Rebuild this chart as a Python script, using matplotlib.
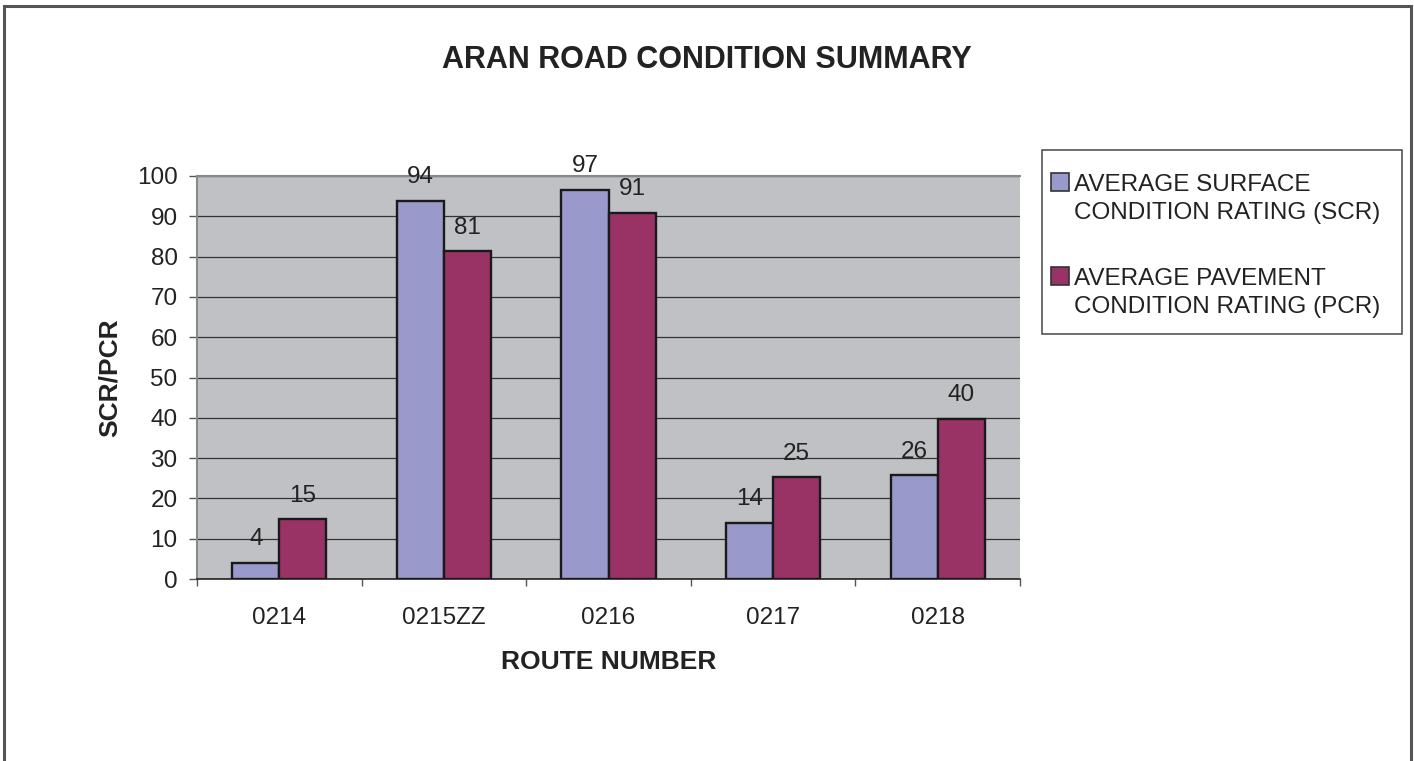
import numpy as np
import matplotlib
matplotlib.use('Agg')
import matplotlib.pyplot as plt
from matplotlib.patches import Rectangle

plt.rcParams['font.family'] = ['Liberation Sans', 'DejaVu Sans']

routes = ['0214', '0215ZZ', '0216', '0217', '0218']
scr = [4, 93.8, 96.6, 14, 25.8]
pcr = [14.8, 81.3, 90.9, 25.3, 39.8]
series_names = ['AVERAGE SURFACE\nCONDITION RATING (SCR)',
                'AVERAGE PAVEMENT\nCONDITION RATING (PCR)']
colors = ['#9999cc', '#993366']

W, H = 1414, 761


def fx(px):
    return px / W


def fy(py):
    # pixel row from top -> figure fraction
    return 1 - py / H


fig = plt.figure(figsize=(W / 100, H / 100), dpi=100)
ax = fig.add_axes([fx(197), fy(579), fx(1020 - 197), (579 - 176) / H])

x = np.arange(len(routes))
w = 0.286
b1 = ax.bar(x - w, scr, w, align='edge', color=colors[0], edgecolor='#1a1a1a',
            linewidth=1.7, zorder=3)
b2 = ax.bar(x, pcr, w, align='edge', color=colors[1], edgecolor='#1a1a1a',
            linewidth=1.7, zorder=3)
for bars in (b1, b2):
    ax.bar_label(bars, fmt='%.0f', padding=9, fontsize=17.5, color='#222222')

ax.set_facecolor('#c0c1c5')
ax.set_xlim(-0.5, len(routes) - 0.5)
ax.set_ylim(0, 100)
ax.set_yticks(range(0, 101, 10))
ax.yaxis.grid(True, color='#333333', linewidth=0.9, zorder=1)
ax.set_axisbelow(True)

ax.set_xticks(x)
ax.set_xticklabels(routes)
ax.set_xticks(np.arange(-0.5, len(routes)), minor=True)
ax.tick_params(axis='x', which='major', length=0, pad=20.5, labelsize=17.5,
               labelcolor='#222222')
ax.tick_params(axis='x', which='minor', length=5, width=1, color='#555555')
ax.tick_params(axis='y', length=5.5, width=1, color='#555555', labelsize=17.5,
               pad=8.5, labelcolor='#222222')

for side in ['left', 'top']:
    ax.spines[side].set_color('#888888')
    ax.spines[side].set_linewidth(1.5)
ax.spines['bottom'].set_color('#222222')
ax.spines['bottom'].set_linewidth(1.2)
ax.spines['right'].set_visible(False)

ax.set_ylabel('SCR/PCR', fontsize=19, fontweight='bold', labelpad=11,
              color='#222222')
ax.set_xlabel('ROUTE NUMBER', fontsize=19, fontweight='bold', labelpad=15,
              color='#222222')

fig.text(0.5, fy(68), 'ARAN ROAD CONDITION SUMMARY', ha='center', va='baseline',
         fontsize=22, fontweight='bold', color='#222222')

# legend box drawn by hand so the swatch sits on the first text line
fig.patches.append(Rectangle((fx(1042), fy(334)), fx(1402 - 1042), (334 - 150) / H,
                             transform=fig.transFigure, fill=False,
                             edgecolor='#555555', linewidth=1.2))
first_baseline = [191, 285]
for name, col, base in zip(series_names, colors, first_baseline):
    fig.patches.append(Rectangle((fx(1051), fy(base)), fx(18), 18 / H,
                                 transform=fig.transFigure, facecolor=col,
                                 edgecolor='#333333', linewidth=1.2))
    for i, line in enumerate(name.split('\n')):
        fig.text(fx(1074), fy(base + 28 * i), line, ha='left', va='baseline',
                 fontsize=17.5, color='#222222')

fig.patches.append(Rectangle((fx(4), -0.05), fx(1407), 1.05 - 6 / H,
                             transform=fig.transFigure, fill=False,
                             edgecolor='#555555', linewidth=2.2))

fig.savefig('out.png', dpi=100)
